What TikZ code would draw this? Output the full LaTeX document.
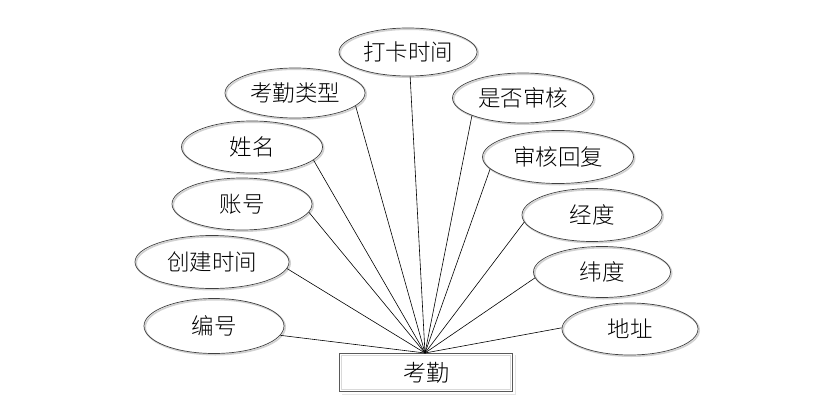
\documentclass[tikz,border=0pt]{standalone}
\usepackage{fontspec}
\newfontfamily\cjk{Noto Sans CJK SC Light}
\usetikzlibrary{shapes.geometric}
\begin{document}
\begin{tikzpicture}[x=1pt,y=-1pt,
  attr/.style={ellipse,draw=black!75,line width=0.7pt,inner sep=0pt,font=\cjk\fontsize{22.5}{24}\selectfont,
    preaction={draw=black!18,line width=1.6pt,transform canvas={shift={(1.2pt,-1.2pt)}}}},
  ent/.style={rectangle,draw=black!65,line width=1.3pt,inner sep=0pt,
    minimum width=173pt,minimum height=38pt,font=\cjk\fontsize{23}{25}\selectfont},
  link/.style={draw=black,line width=0.6pt}]
\useasboundingbox (0,0) rectangle (832,404);
\draw[black!10,line width=1.4pt] (342,394.5) -- (515.5,394.5) -- (515.5,355);
\node[ent] (e) at (426,372.5) {考勤};
\draw[black!15,line width=0.6pt] ([shift={(2.6pt,-2.6pt)}]e.north west) rectangle ([shift={(-2.6pt,2.6pt)}]e.south east);
\coordinate (c) at (425,353);
\node[attr,minimum width=138pt,minimum height=48pt] (a1) at (408,52) {打卡时间};
\node[attr,minimum width=140pt,minimum height=50pt] (a2) at (295,93) {考勤类型};
\node[attr,minimum width=141pt,minimum height=52pt] (a3) at (252,147) {姓名};
\node[attr,minimum width=140pt,minimum height=52pt] (a4) at (242,204) {账号};
\node[attr,minimum width=154pt,minimum height=53pt] (a5) at (212,262) {创建时间};
\node[attr,minimum width=140pt,minimum height=55pt] (a6) at (214,326) {编号};
\node[attr,minimum width=141pt,minimum height=50pt] (b1) at (523,98) {是否审核};
\node[attr,minimum width=151pt,minimum height=53pt] (b2) at (558,157) {审核回复};
\node[attr,minimum width=140pt,minimum height=53pt] (b3) at (592,215) {经度};
\node[attr,minimum width=137pt,minimum height=51pt] (b4) at (602,272) {纬度};
\node[attr,minimum width=136pt,minimum height=52pt] (b5) at (630,329) {地址};
\foreach \n/\a in {a1/275,a2/348,a3/348,a4/353.5,a5/355.6,a6/352.5,b1/199,b2/190.5,b3/186.6,b4/185,b5/179}{
  \draw[link] (\n.\a) -- (c);
}
\end{tikzpicture}
\end{document}
